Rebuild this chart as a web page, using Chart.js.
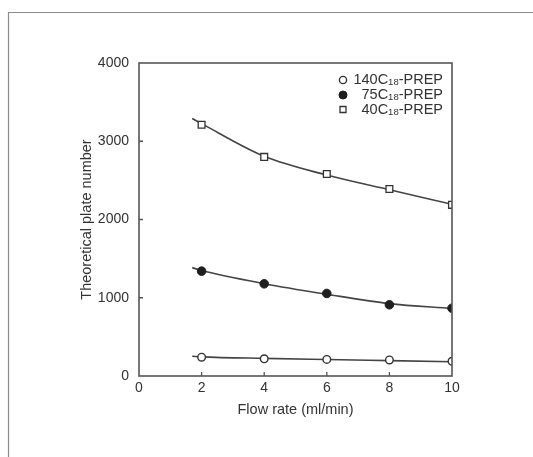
<!DOCTYPE html>
<html>
<head>
<meta charset="utf-8">
<script src="https://cdn.jsdelivr.net/npm/chart.js@4/dist/chart.umd.min.js"></script>
<style>
  html, body { margin: 0; padding: 0; background: #ffffff; }
  #wrap { position: relative; width: 533px; height: 457px; }
  canvas { display: block; }
</style>
</head>
<body>
<div id="wrap"><canvas id="c" width="533" height="457"></canvas></div>
<script>
// ---- data ----
const flowRates = [2, 4, 6, 8, 10];
const plates140 = [240, 220, 212, 205, 188];
const plates75  = [1340, 1178, 1055, 910, 866];
const plates40  = [3210, 2800, 2582, 2390, 2187];

const curveX   = [1.7, 2, 4, 6, 8, 10];
const curve140 = [252, 245, 225, 210, 196, 182];
const curve75  = [1385, 1348, 1180, 1045, 925, 862];
const curve40  = [3290, 3225, 2808, 2568, 2380, 2195];

const xTicks = [0, 2, 4, 6, 8, 10];
const yTicks = [0, 1000, 2000, 3000, 4000];

const seriesPrefix = ['140C', '75C', '40C'];
const seriesSub = ['18', '18', '18'];
const seriesSuffix = ['-PREP', '-PREP', '-PREP'];

const xTitle = 'Flow rate (ml/min)';
const yTitle = 'Theoretical plate number';

// ---- helpers ----
const pts = (xs, ys) => xs.map((x, i) => ({ x: x, y: ys[i] }));
const INK = '#333333';
const FONT = 'Liberation Sans, Arial, sans-serif';

const lineDs = (ys) => ({
  data: pts(curveX, ys), showLine: true, pointRadius: 0, borderColor: '#444',
  borderWidth: 1.6, cubicInterpolationMode: 'monotone', fill: false, order: 2
});
const markerStyles = [
  { pointStyle: 'circle', pointRadius: 3.8, pointBackgroundColor: '#ffffff', pointBorderColor: '#333', pointBorderWidth: 1.4 },
  { pointStyle: 'circle', pointRadius: 4.3, pointBackgroundColor: '#1e1e1e', pointBorderColor: '#1e1e1e', pointBorderWidth: 1 },
  { pointStyle: 'rect', pointRadius: 4.8, pointBackgroundColor: '#ffffff', pointBorderColor: '#333', pointBorderWidth: 1.3 }
];
const markerDs = (ys, k) => Object.assign({ data: pts(flowRates, ys), showLine: false, order: 1 }, markerStyles[k]);

// frame, box, inner ticks, legend
const decor = {
  id: 'decor',
  beforeDraw(chart) {
    const ctx = chart.ctx;
    ctx.save();
    ctx.strokeStyle = '#8a8a8a';
    ctx.lineWidth = 1.2;
    ctx.beginPath();
    ctx.moveTo(8.5, 460); ctx.lineTo(8.5, 12.5); ctx.lineTo(540, 12.5);
    ctx.stroke();
    ctx.restore();
  },
  afterDraw(chart) {
    const ctx = chart.ctx, a = chart.chartArea;
    const xs = chart.scales.x, ys = chart.scales.y;
    ctx.save();
    ctx.strokeStyle = '#555';
    ctx.lineWidth = 1.6;
    ctx.strokeRect(a.left, a.top, a.right - a.left, a.bottom - a.top);
    ctx.lineWidth = 1.3;
    ctx.beginPath();
    xTicks.forEach(v => { if (v > 0 && v < 10) { const px = xs.getPixelForValue(v); ctx.moveTo(px, a.bottom); ctx.lineTo(px, a.bottom - 4); } });
    yTicks.forEach(v => { if (v > 0 && v < 4000) { const py = ys.getPixelForValue(v); ctx.moveTo(a.left, py); ctx.lineTo(a.left + 4, py); } });
    ctx.stroke();

    // legend
    const rowY = [80, 95, 109.5];
    const markerX = 343, textRight = 443;
    ctx.textBaseline = 'middle';
    seriesPrefix.forEach((p, i) => {
      const st = markerStyles[i];
      const y = rowY[i];
      ctx.beginPath();
      ctx.lineWidth = st.pointBorderWidth;
      ctx.strokeStyle = st.pointBorderColor;
      ctx.fillStyle = st.pointBackgroundColor;
      if (st.pointStyle === 'circle') {
        ctx.arc(markerX, y, i === 1 ? 4 : 3.6, 0, Math.PI * 2);
      } else {
        ctx.rect(markerX - 3, y - 3, 6, 6);
      }
      ctx.fill(); ctx.stroke();

      const big = '14.5px ' + FONT, small = '9.5px ' + FONT;
      ctx.font = big; const w1 = ctx.measureText(p).width; const w3 = ctx.measureText(seriesSuffix[i]).width;
      ctx.font = small; const w2 = ctx.measureText(seriesSub[i]).width;
      let x = textRight - (w1 + w2 + w3);
      ctx.fillStyle = INK;
      ctx.textAlign = 'left';
      ctx.font = big; ctx.fillText(p, x, y); x += w1;
      ctx.font = small; ctx.fillText(seriesSub[i], x, y + 2.5); x += w2;
      ctx.font = big; ctx.fillText(seriesSuffix[i], x, y);
    });
    ctx.restore();
  }
};

new Chart(document.getElementById('c'), {
  type: 'scatter',
  data: {
    datasets: [
      markerDs(plates140, 0), markerDs(plates75, 1), markerDs(plates40, 2),
      lineDs(curve140), lineDs(curve75), lineDs(curve40)
    ]
  },
  options: {
    responsive: false,
    animation: false,
    devicePixelRatio: 1,
    layout: { padding: { left: 0, top: 63, right: 81, bottom: 0 } },
    plugins: { legend: { display: false }, tooltip: { enabled: false } },
    scales: {
      x: {
        type: 'linear', min: 0, max: 10,
        afterBuildTicks: s => { s.ticks = xTicks.map(v => ({ value: v })); },
        afterFit: s => { s.height = 81; },
        grid: { display: false, drawTicks: false }, border: { display: false },
        ticks: { padding: 4, color: INK, font: { family: FONT, size: 14 }, callback: v => String(v) },
        title: { display: true, text: xTitle, color: INK, font: { family: FONT, size: 14.5 }, padding: { top: 0, bottom: 38 } }
      },
      y: {
        type: 'linear', min: 0, max: 4000,
        afterBuildTicks: s => { s.ticks = yTicks.map(v => ({ value: v })); },
        afterFit: s => { s.width = 139; },
        grid: { display: false, drawTicks: false }, border: { display: false },
        ticks: { padding: 10, color: INK, font: { family: FONT, size: 14 }, callback: v => String(v) },
        title: { display: true, text: yTitle, color: INK, font: { family: FONT, size: 14.5 }, padding: { top: 78, bottom: 0 } }
      }
    }
  },
  plugins: [decor]
});
</script>
</body>
</html>
